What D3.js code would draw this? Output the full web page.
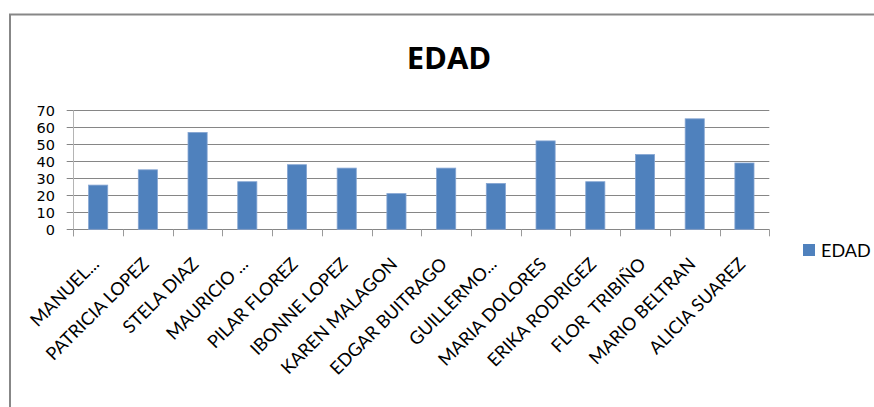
<!DOCTYPE html>
<html>
<head>
<meta charset="utf-8">
<script src="https://cdn.jsdelivr.net/npm/d3@7"></script>
<style>
  html, body { margin: 0; padding: 0; background: #fff; }
  svg { display: block; }
</style>
</head>
<body>
<svg id="chart" width="874" height="407"></svg>
<script>
// Ages per person
const categories = [
  "MANUEL...", "PATRICIA LOPEZ", "STELA DIAZ", "MAURICIO ...", "PILAR FLOREZ",
  "IBONNE LOPEZ", "KAREN MALAGON", "EDGAR BUITRAGO", "GUILLERMO...",
  "MARIA DOLORES", "ERIKA RODRIGEZ", "FLOR  TRIBIÑO", "MARIO BELTRAN", "ALICIA SUAREZ"
];
const edad = [26, 35, 57, 28, 38, 36, 21, 36, 27, 52, 28, 44, 65, 39];
const yTicks = [0, 10, 20, 30, 40, 50, 60, 70];
const seriesName = "EDAD";
const chartTitle = "EDAD";

const svg = d3.select("#chart");
const W = 874, H = 407;
const plot = { left: 73.3, right: 769.3, top: 110.3, bottom: 229.3 };

// Outer chart frame (only left and top edges fall inside the view)
svg.append("path")
  .attr("d", `M10,${H} V14.5 H${W}`)
  .attr("fill", "none")
  .attr("stroke", "#878787")
  .attr("stroke-width", 2);

// Title
svg.append("text")
  .attr("x", 449).attr("y", 69)
  .attr("text-anchor", "middle")
  .attr("font-family", "Open Sans, sans-serif")
  .attr("font-weight", "bold")
  .attr("font-size", 31)
  .attr("fill", "#000")
  .text(chartTitle);

const x = d3.scaleBand().domain(categories).range([plot.left, plot.right]).padding(0);
const y = d3.scaleLinear().domain([0, 70]).range([plot.bottom, plot.top]);

// Horizontal gridlines
svg.append("g")
  .selectAll("line")
  .data(yTicks)
  .join("line")
  .attr("x1", plot.left - 6.6).attr("x2", plot.right)
  .attr("y1", d => Math.round(y(d)) + 0.5).attr("y2", d => Math.round(y(d)) + 0.5)
  .attr("stroke", "#868686").attr("stroke-width", 1);

// Vertical value axis
svg.append("line")
  .attr("x1", Math.round(plot.left) + 0.5).attr("x2", Math.round(plot.left) + 0.5)
  .attr("y1", plot.top).attr("y2", plot.bottom + 7)
  .attr("stroke", "#b4b4b4").attr("stroke-width", 1);

// Y tick labels
svg.append("g")
  .selectAll("text")
  .data(yTicks)
  .join("text")
  .attr("x", 55).attr("y", d => y(d) + 5.5)
  .attr("text-anchor", "end")
  .attr("font-family", "DejaVu Sans, sans-serif")
  .attr("font-size", 14.5)
  .attr("fill", "#000")
  .text(d => d);

// Category tick marks at band boundaries
const bounds = categories.map(c => x(c)).concat([plot.right]);
svg.append("g")
  .selectAll("line")
  .data(bounds)
  .join("line")
  .attr("x1", d => Math.round(d) + 0.5).attr("x2", d => Math.round(d) + 0.5)
  .attr("y1", plot.bottom).attr("y2", plot.bottom + 7)
  .attr("stroke", "#9a9a9a").attr("stroke-width", 1);

// Bars
const barW = x.bandwidth() * 0.385;
svg.append("g")
  .selectAll("rect")
  .data(edad)
  .join("rect")
  .attr("x", (d, i) => x(categories[i]) + (x.bandwidth() - barW) / 2)
  .attr("y", d => y(d))
  .attr("width", barW)
  .attr("height", d => y(0) - y(d))
  .attr("fill", "#4f81bd")
  .attr("stroke", "#86a6d3")
  .attr("stroke-width", 0.8);

// Category labels rotated -45°
svg.append("g")
  .selectAll("text")
  .data(categories)
  .join("text")
  .attr("transform", c => `translate(${x(c) + x.bandwidth() / 2 + 2},${plot.bottom + 36}) rotate(-45)`)
  .attr("text-anchor", "end")
  .attr("font-family", "Lato, sans-serif")
  .attr("font-size", 18)
  .attr("fill", "#000")
  .style("white-space", "pre")
  .text(c => c);

// Legend
svg.append("rect")
  .attr("x", 803).attr("y", 244)
  .attr("width", 12).attr("height", 12)
  .attr("fill", "#4f81bd");
svg.append("text")
  .attr("x", 821).attr("y", 257)
  .attr("font-family", "Lato, sans-serif")
  .attr("font-size", 18)
  .attr("fill", "#000")
  .text(seriesName);
</script>
</body>
</html>
